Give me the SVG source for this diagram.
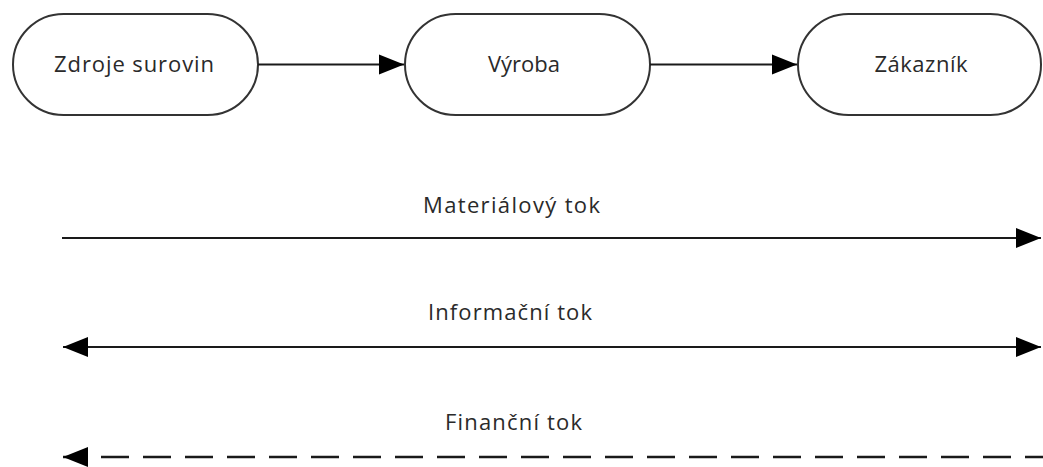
<svg xmlns="http://www.w3.org/2000/svg" width="1043" height="467" viewBox="0 0 1043 467">
  <defs>
    <style>
      .node { fill: #ffffff; stroke: #333333; stroke-width: 2; }
      .lbl { font-family: "Open Sans", "Noto Sans", "DejaVu Sans", sans-serif; font-size: 22px; fill: #2a2a2a; text-anchor: middle; }
      .conn { stroke: #1a1a1a; stroke-width: 2; fill: none; }
      .dash { stroke-width: 2.5; stroke-dasharray: 28 14; stroke-dashoffset: 4; }
    </style>
    <marker id="arrow" markerUnits="userSpaceOnUse" markerWidth="26" markerHeight="22" viewBox="0 0 26 22" refX="25" refY="11" orient="auto-start-reverse">
      <path d="M0,1 L25,11 L0,21 z" fill="#000000"/>
    </marker>
  </defs>
  <rect width="1043" height="467" fill="#ffffff"/>

  <g id="node-zdroje">
    <rect class="node" x="13" y="14" width="245" height="101" rx="50.5" ry="50.5"/>
    <text class="lbl" x="134" y="72" textLength="160" lengthAdjust="spacing">Zdroje surovin</text>
  </g>
  <g id="node-vyroba">
    <rect class="node" x="405" y="14" width="245" height="101" rx="50.5" ry="50.5"/>
    <text class="lbl" x="524" y="72">Výroba</text>
  </g>
  <g id="node-zakaznik">
    <rect class="node" x="798" y="14" width="243" height="101" rx="50.5" ry="50.5"/>
    <text class="lbl" x="921" y="72" textLength="93" lengthAdjust="spacing">Zákazník</text>
  </g>

  <g id="connectors">
    <line class="conn" x1="258" y1="64.5" x2="404" y2="64.5" marker-end="url(#arrow)"/>
    <line class="conn" x1="650" y1="64.5" x2="797" y2="64.5" marker-end="url(#arrow)"/>
    <line class="conn" x1="62" y1="238" x2="1041" y2="238" marker-end="url(#arrow)"/>
    <line class="conn" x1="63" y1="347" x2="1041" y2="347" marker-start="url(#arrow)" marker-end="url(#arrow)"/>
    <line class="conn dash" x1="63" y1="457" x2="1043" y2="457" marker-start="url(#arrow)"/>
  </g>

  <g id="labels">
    <text class="lbl" x="511.5" y="213" textLength="177" lengthAdjust="spacing">Materiálový tok</text>
    <text class="lbl" x="510" y="320" textLength="164" lengthAdjust="spacing">Informační tok</text>
    <text class="lbl" x="513.5" y="430" textLength="137" lengthAdjust="spacing">Finanční tok</text>
  </g>
</svg>
